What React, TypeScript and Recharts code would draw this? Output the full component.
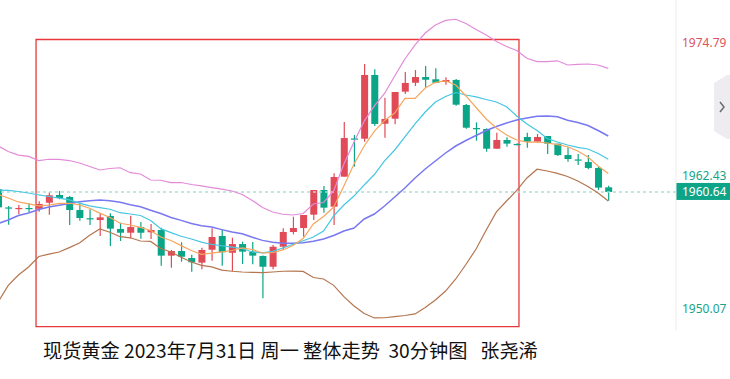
import React from 'react';
import { ComposedChart, Bar, Line, XAxis, YAxis, ReferenceLine, ReferenceArea } from 'recharts';

// 30 minute candles, oldest first
const opens = [1961.20, 1959.51, 1959.41, 1959.46, 1959.39, 1959.95, 1960.67, 1960.48, 1959.27, 1958.51, 1958.34, 1958.72, 1957.51, 1957.16, 1957.67, 1957.20, 1957.41, 1955.03, 1955.46, 1954.81, 1954.38, 1955.58, 1956.86, 1955.30, 1956.11, 1955.40, 1955.00, 1954.00, 1955.86, 1957.23, 1957.60, 1958.84, 1961.13, 1959.58, 1962.37, 1965.92, 1965.90, 1971.82, 1967.29, 1967.76, 1970.27, 1971.10, 1971.63, 1971.42, 1971.17, 1971.36, 1969.03, 1966.89, 1966.80, 1964.97, 1965.78, 1965.41, 1966.06, 1965.62, 1966.15, 1965.44, 1964.38, 1963.97, 1963.73, 1963.18, 1961.38];
const highs = [1961.41, 1959.64, 1959.74, 1959.90, 1960.08, 1960.92, 1961.04, 1960.57, 1959.95, 1959.34, 1958.97, 1958.97, 1958.09, 1958.74, 1958.16, 1957.97, 1957.63, 1955.56, 1956.27, 1955.12, 1955.77, 1957.57, 1957.41, 1956.70, 1956.33, 1956.30, 1955.05, 1956.02, 1957.57, 1958.65, 1958.81, 1961.13, 1961.50, 1962.68, 1967.45, 1966.24, 1972.84, 1972.35, 1969.71, 1970.24, 1972.10, 1972.28, 1972.66, 1972.44, 1971.61, 1971.45, 1969.12, 1967.42, 1966.87, 1966.46, 1966.03, 1965.47, 1966.46, 1966.34, 1966.15, 1965.44, 1965.10, 1964.48, 1964.38, 1963.36, 1961.53];
const lows = [1959.37, 1957.91, 1958.87, 1959.09, 1959.12, 1958.84, 1960.27, 1957.88, 1958.28, 1957.88, 1956.86, 1955.93, 1956.39, 1956.64, 1956.61, 1956.58, 1954.10, 1953.91, 1954.47, 1953.54, 1953.76, 1954.56, 1954.10, 1953.60, 1954.25, 1954.23, 1951.07, 1953.76, 1955.56, 1957.01, 1956.79, 1958.34, 1959.02, 1957.88, 1962.37, 1963.30, 1965.62, 1967.08, 1965.99, 1967.24, 1970.05, 1970.80, 1970.68, 1971.05, 1970.92, 1968.97, 1966.83, 1965.71, 1964.69, 1964.97, 1965.16, 1965.29, 1965.06, 1965.53, 1964.48, 1964.29, 1963.76, 1963.46, 1963.06, 1961.13, 1960.14];
const closes = [1959.52, 1959.41, 1959.46, 1959.41, 1959.83, 1960.64, 1960.39, 1959.27, 1958.53, 1958.44, 1958.59, 1957.54, 1957.16, 1957.69, 1957.16, 1957.41, 1955.03, 1955.46, 1954.93, 1954.41, 1955.56, 1956.76, 1955.34, 1956.11, 1955.40, 1955.03, 1954.00, 1955.86, 1957.23, 1957.60, 1958.81, 1961.13, 1959.49, 1962.34, 1965.96, 1965.83, 1971.82, 1967.27, 1967.73, 1970.24, 1971.08, 1971.63, 1971.38, 1971.10, 1971.36, 1969.06, 1966.92, 1966.83, 1964.97, 1965.78, 1965.44, 1965.35, 1965.62, 1966.06, 1965.44, 1964.38, 1964.01, 1963.90, 1963.18, 1961.35, 1960.95];

// Bollinger bands and moving averages
const bollUpper = [1965.22, 1964.71, 1964.38, 1964.25, 1963.87, 1963.99, 1963.97, 1963.87, 1963.64, 1963.32, 1962.99, 1963.13, 1963.20, 1962.74, 1962.62, 1962.06, 1962.04, 1961.81, 1961.83, 1961.64, 1961.51, 1961.36, 1961.22, 1961.04, 1960.71, 1960.16, 1959.51, 1959.09, 1958.88, 1958.81, 1958.95, 1959.83, 1959.97, 1961.04, 1963.55, 1965.59, 1967.54, 1968.94, 1970.10, 1971.73, 1973.31, 1974.61, 1975.72, 1976.47, 1976.89, 1977.00, 1976.61, 1976.05, 1975.54, 1974.93, 1974.47, 1974.10, 1973.37, 1973.06, 1973.06, 1973.14, 1972.75, 1972.81, 1972.84, 1972.75, 1972.44];
const bollMid = [1958.02, 1958.34, 1958.76, 1958.99, 1959.32, 1959.55, 1959.72, 1959.88, 1960.03, 1960.13, 1960.20, 1960.14, 1960.00, 1959.76, 1959.57, 1959.25, 1958.94, 1958.58, 1958.31, 1958.02, 1957.80, 1957.69, 1957.45, 1957.23, 1957.06, 1956.74, 1956.45, 1956.28, 1956.18, 1956.18, 1956.24, 1956.36, 1956.58, 1956.90, 1957.32, 1957.60, 1958.44, 1958.90, 1959.64, 1960.48, 1961.32, 1962.25, 1963.08, 1963.83, 1964.57, 1965.22, 1965.73, 1966.20, 1966.66, 1967.03, 1967.36, 1967.64, 1967.82, 1967.99, 1968.01, 1967.93, 1967.61, 1967.40, 1967.13, 1966.66, 1966.15];
const bollLower = [1950.72, 1952.26, 1953.23, 1953.98, 1954.95, 1955.17, 1955.37, 1955.78, 1956.21, 1956.92, 1957.51, 1957.20, 1956.79, 1956.69, 1956.39, 1956.35, 1955.69, 1955.37, 1954.88, 1954.44, 1954.13, 1953.98, 1953.68, 1953.58, 1953.51, 1953.48, 1953.45, 1953.51, 1953.58, 1953.60, 1953.56, 1953.00, 1952.86, 1952.27, 1951.22, 1950.35, 1949.65, 1949.24, 1949.26, 1949.37, 1949.47, 1949.61, 1950.21, 1950.91, 1951.74, 1952.86, 1954.21, 1955.65, 1957.41, 1959.09, 1960.11, 1961.09, 1962.25, 1963.06, 1962.90, 1962.67, 1962.39, 1961.97, 1961.46, 1960.85, 1960.11];
const maFast = [1960.71, 1960.39, 1960.02, 1959.85, 1959.66, 1959.73, 1959.88, 1959.90, 1959.75, 1959.44, 1958.98, 1958.58, 1958.04, 1957.88, 1957.66, 1957.37, 1956.76, 1956.44, 1955.96, 1955.51, 1955.15, 1955.26, 1955.38, 1955.51, 1955.76, 1955.60, 1955.28, 1955.30, 1955.56, 1955.97, 1956.62, 1957.97, 1958.67, 1959.55, 1961.50, 1963.55, 1965.22, 1966.61, 1967.59, 1968.29, 1969.65, 1969.65, 1970.61, 1971.14, 1971.28, 1970.89, 1969.87, 1968.80, 1967.73, 1966.89, 1966.24, 1965.78, 1965.59, 1965.61, 1965.50, 1965.35, 1965.15, 1964.76, 1964.20, 1963.36, 1962.67];
const maSlow = [1961.13, 1961.09, 1960.99, 1960.85, 1960.67, 1960.53, 1960.38, 1960.21, 1959.91, 1959.65, 1959.49, 1959.34, 1959.02, 1958.90, 1958.76, 1958.30, 1957.54, 1957.17, 1956.83, 1956.58, 1956.29, 1956.07, 1955.95, 1955.83, 1955.69, 1955.37, 1955.28, 1955.43, 1955.74, 1956.09, 1956.42, 1956.76, 1957.32, 1958.72, 1959.74, 1960.57, 1961.60, 1962.57, 1963.83, 1964.85, 1966.06, 1967.27, 1968.38, 1969.31, 1969.82, 1970.19, 1969.96, 1969.78, 1969.54, 1969.31, 1968.87, 1968.01, 1967.27, 1966.66, 1965.92, 1965.59, 1965.31, 1965.10, 1964.94, 1964.52, 1963.99];

const priceTicks = [1950.07, 1962.43, 1974.79];
const lastPriceLabel = '1960.64';
const caption = '现货黄金 2023年7月31日 周一 整体走势  30分钟图   张尧浠';

// hand drawn box: candle index range and price range
const boxIndex = [3.73, 51.22];
const boxPrice = [1948.44, 1975.12];

const UP = '#e04b57';
const DOWN = '#0aa587';

const rows = opens.map((o, i) => ({
  i,
  open: o,
  high: highs[i],
  low: lows[i],
  close: closes[i],
  range: [lows[i], highs[i]],
  upper: bollUpper[i],
  mid: bollMid[i],
  lower: bollLower[i],
  fast: maFast[i],
  slow: maSlow[i],
}));

function Candle(props: any) {
  const { x, y, width, height, payload } = props;
  if (!payload) return null;
  const { open, close, high, low } = payload;
  const ppu = high > low ? height / (high - low) : 0;
  const top = y + (high - Math.max(open, close)) * ppu;
  const bottom = y + (high - Math.min(open, close)) * ppu;
  const color = close >= open ? UP : DOWN;
  const cx = x + width / 2;
  return (
    <g>
      <line x1={cx} x2={cx} y1={y} y2={y + height} stroke={color} strokeWidth={1.2} />
      <rect x={x} y={top} width={width} height={Math.max(1.2, bottom - top)} fill={color} />
    </g>
  );
}

function PriceTick(props: any) {
  const { x, y, payload } = props;
  const color = payload.value === priceTicks[priceTicks.length - 1] ? '#e0525c' : '#17a388';
  return (
    <text x={x} y={y} dy="0.35em" fill={color} fontSize={12} fontFamily='"Noto Sans", sans-serif'>
      {payload.value.toFixed(2)}
    </text>
  );
}

function PriceTag(props: any) {
  const { viewBox } = props;
  const left = viewBox.x + viewBox.width;
  return (
    <g>
      <rect x={left} y={viewBox.y - 9} width={54} height={17} fill="#0ea488" />
      <text x={left + 6} y={viewBox.y} dy="0.35em" fill="#fff" fontSize={12} fontFamily='"Noto Sans", sans-serif'>
        {lastPriceLabel}
      </text>
    </g>
  );
}

export default function App() {
  const last = closes[closes.length - 1];
  return (
    <div style={{ position: 'relative', width: 730, height: 379, background: '#fff' }}>
      <style>{'body{margin:0}'}</style>
      <ComposedChart width={730} height={330} data={rows} margin={{ top: 0, right: 0, bottom: 0, left: 0 }}>
        <XAxis type="number" dataKey="i" domain={[0.187, 66.66]} allowDataOverflow hide />
        <YAxis
          orientation="right"
          domain={[1948.12, 1978.79]}
          allowDataOverflow
          ticks={priceTicks}
          interval={0}
          width={54}
          tickLine={false}
          tickMargin={0}
          axisLine={{ stroke: '#ececec' }}
          tick={<PriceTick />}
        />
        <ReferenceLine y={last} stroke="#a8e0d6" strokeDasharray="3 3" strokeWidth={1.5} label={<PriceTag />} />
        <Line dataKey="upper" stroke="#e38ad8" strokeWidth={1.2} dot={false} isAnimationActive={false} />
        <Line dataKey="lower" stroke="#b47650" strokeWidth={1.2} dot={false} isAnimationActive={false} />
        <Line dataKey="mid" stroke="#7878f0" strokeWidth={1.5} dot={false} isAnimationActive={false} />
        <Line dataKey="slow" stroke="#45c6e2" strokeWidth={1.2} dot={false} isAnimationActive={false} />
        <Line dataKey="fast" stroke="#f7a65e" strokeWidth={1.2} dot={false} isAnimationActive={false} />
        <Bar dataKey="range" barSize={7} shape={<Candle />} isAnimationActive={false} />
        <ReferenceArea
          x1={boxIndex[0]}
          x2={boxIndex[1]}
          y1={boxPrice[0]}
          y2={boxPrice[1]}
          fill="none"
          fillOpacity={0}
          stroke="#e8383d"
          strokeWidth={1.3}
        />
      </ComposedChart>
      <svg style={{ position: 'absolute', left: 714, top: 75 }} width={16} height={64}>
        <polygon points="16,0 13,0 0,8 0,56 13,64 16,64" fill="#ededf1" />
        <polyline points="6,27 10,32 6,37" fill="none" stroke="#6a6a72" strokeWidth={1.5} />
      </svg>
      <div
        style={{
          position: 'absolute',
          left: 43,
          top: 338,
          fontSize: 19.2,
          lineHeight: '25px',
          color: '#111',
          whiteSpace: 'pre',
          fontFamily: '"Noto Sans CJK SC", sans-serif',
        }}
      >
        {caption}
      </div>
    </div>
  );
}
